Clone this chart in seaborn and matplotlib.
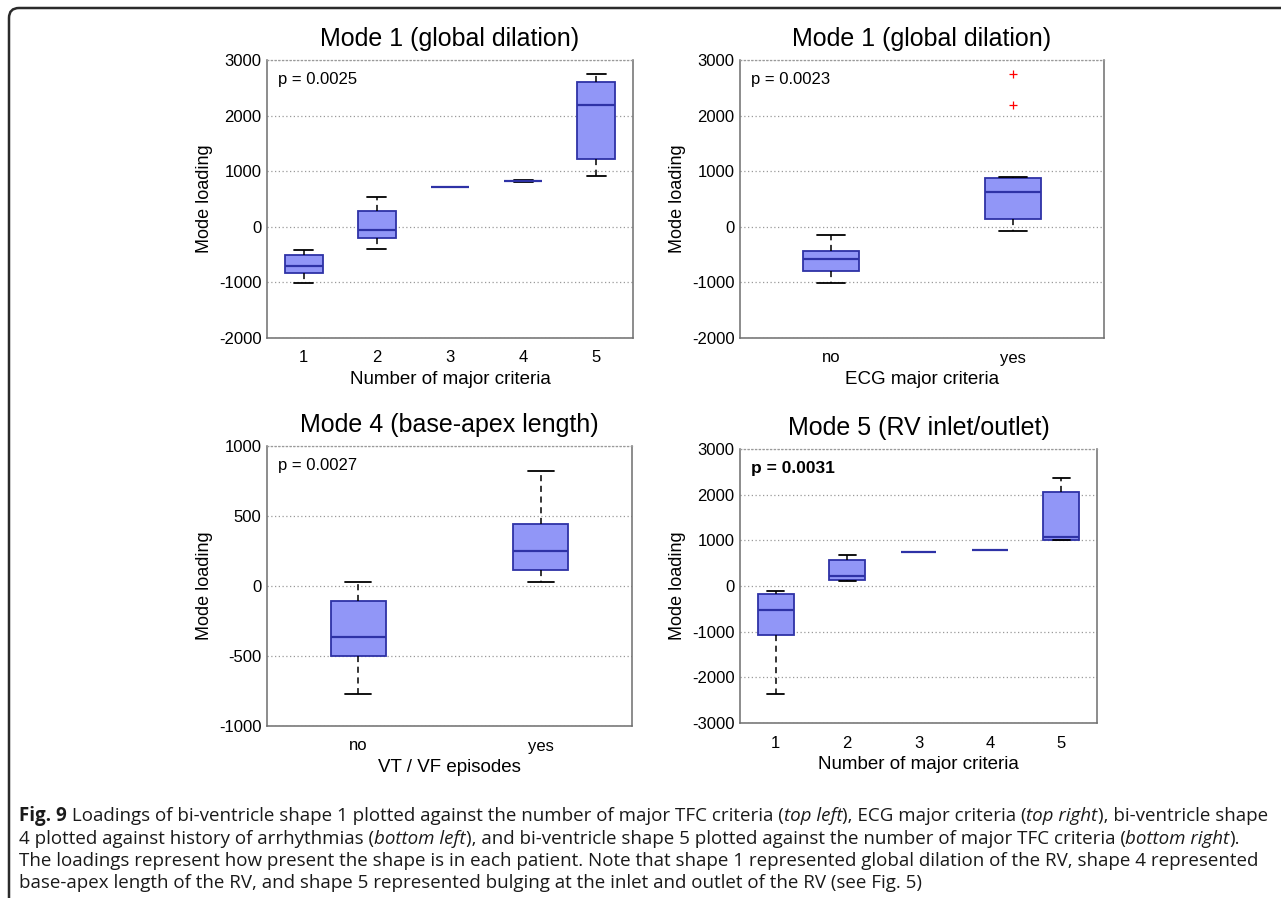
import numpy as np
import pandas as pd
import matplotlib
matplotlib.use("Agg")
import matplotlib.pyplot as plt
import seaborn as sns
from matplotlib.path import Path
from matplotlib.patches import PathPatch
from matplotlib.font_manager import FontProperties, findfont

# ---------------- data ----------------
# Panel A: Mode 1 vs number of major criteria
crit_labels = ["1", "2", "3", "4", "5"]
a_c1 = [-1010, -824, -704, -511, -421]
a_c2 = [-397, -193, -61, 287, 539]
a_c3 = [719]
a_c4 = [805, 815, 822, 828, 835]
a_c5 = [917, 1217, 2190, 2610, 2748]

# Panel B: Mode 1 vs ECG major criteria
yn_labels = ["no", "yes"]
b_no = [-1010, -794, -583, -433, -139]
b_yes = [-79, 40, 100, 137, 300, 480, 617, 700, 820, 869, 900, 2184, 2748]

# Panel C: Mode 4 vs VT / VF episodes
c_no = [-769, -499, -364, -108, 32]
c_yes = [32, 111, 251, 440, 821]

# Panel D: Mode 5 vs number of major criteria
d_c1 = [-2365, -1066, -533, -175, -117]
d_c2 = [109, 124, 212, 562, 686]
d_c3 = [745]
d_c4 = [782, 786, 788, 790, 794]
d_c5 = [1000, 1015, 1073, 2051, 2365]

titles = ["Mode 1 (global dilation)", "Mode 1 (global dilation)",
          "Mode 4 (base-apex length)", "Mode 5 (RV inlet/outlet)"]
xlabels = ["Number of major criteria", "ECG major criteria",
           "VT / VF episodes", "Number of major criteria"]
p_texts = ["p = 0.0025", "p = 0.0023", "p = 0.0027", "p = 0.0031"]
ylabel = "Mode loading"


def long_frame(labels, groups):
    rows = []
    for lab, vals in zip(labels, groups):
        for v in vals:
            rows.append((lab, v))
    return pd.DataFrame(rows, columns=["group", "value"])


df_a = long_frame(crit_labels, [a_c1, a_c2, a_c3, a_c4, a_c5])
df_b = long_frame(yn_labels, [b_no, b_yes])
df_c = long_frame(yn_labels, [c_no, c_yes])
df_d = long_frame(crit_labels, [d_c1, d_c2, d_c3, d_c4, d_c5])

# ---------------- styling ----------------
sns.set_theme(style="white")
plt.rcParams["font.family"] = ["Liberation Sans", "DejaVu Sans"]

W, H = 1281, 898
fig = plt.figure(figsize=(W / 100, H / 100), dpi=100)

FACE = "#9196F7"
EDGE = "#2E32A6"
GRIDC = "#9a9a9a"
SPINEC = "#6e6e6e"


def px_axes(left, top, right, bottom):
    return fig.add_axes([left / W, 1 - bottom / H, (right - left) / W, (bottom - top) / H])


panels = [
    dict(df=df_a, order=crit_labels, box=(267, 60, 633, 338), ylim=(-2000, 3000),
         yticks=[-2000, -1000, 0, 1000, 2000, 3000], width=0.52, cap=0.26, pbold=False),
    dict(df=df_b, order=yn_labels, box=(740, 60, 1104, 338), ylim=(-2000, 3000),
         yticks=[-2000, -1000, 0, 1000, 2000, 3000], width=0.31, cap=0.15, pbold=False),
    dict(df=df_c, order=yn_labels, box=(267, 446, 632, 726), ylim=(-1000, 1000),
         yticks=[-1000, -500, 0, 500, 1000], width=0.30, cap=0.14, pbold=False),
    dict(df=df_d, order=crit_labels, box=(740, 449, 1097, 723), ylim=(-3000, 3000),
         yticks=[-3000, -2000, -1000, 0, 1000, 2000, 3000], width=0.50, cap=0.24, pbold=True),
]

for i, p in enumerate(panels):
    ax = px_axes(*p["box"])
    sns.boxplot(data=p["df"], x="group", y="value", order=p["order"], ax=ax,
                color=FACE, saturation=1, linecolor=EDGE, linewidth=1.3,
                width=p["width"], whis=1.5,
                whiskerprops=dict(color="black", linestyle=(0, (4, 3)), linewidth=1.1),
                capprops=dict(color="black", linewidth=1.3),
                medianprops=dict(color=EDGE, linewidth=1.6),
                flierprops=dict(marker="+", markeredgecolor="red", markersize=6,
                                markeredgewidth=0.9),
                capwidths=p["cap"])
    ax.set_xlim(-0.5, len(p["order"]) - 0.5)
    ax.set_ylim(*p["ylim"])
    ax.set_yticks(p["yticks"])
    ax.set_yticklabels([str(t) for t in p["yticks"]])
    ax.yaxis.grid(True, linestyle=(0, (1, 2)), color=GRIDC, linewidth=0.9)
    ax.set_axisbelow(True)
    for side in ["left", "right", "bottom"]:
        ax.spines[side].set_color(SPINEC)
        ax.spines[side].set_linewidth(1.1)
    ax.spines["top"].set_color(GRIDC)
    ax.spines["top"].set_linestyle((0, (1, 2)))
    ax.spines["top"].set_linewidth(0.9)
    ax.tick_params(axis="both", length=0, labelsize=12, colors="black")
    ax.tick_params(axis="x", pad=9)
    ax.tick_params(axis="y", pad=4)
    ax.set_title(titles[i], fontsize=18, pad=10, color="black")
    ax.set_xlabel(xlabels[i], fontsize=13.5, labelpad=4, color="black")
    ax.set_ylabel(ylabel, fontsize=13, labelpad=4, color="black")
    ax.text(0.03, 0.958, p_texts[i], transform=ax.transAxes, fontsize=12.5 if p["pbold"] else 12,
            weight="bold" if p["pbold"] else "normal",
            ha="left", va="top", color="black")

# ---------------- frame ----------------
def fx(x):
    return x / W


def fy(y):
    return 1 - y / H


verts = [(fx(1281), fy(8)), (fx(19), fy(8)), (fx(9), fy(8)), (fx(9), fy(18)), (fx(9), fy(898))]
codes = [Path.MOVETO, Path.LINETO, Path.CURVE3, Path.CURVE3, Path.LINETO]
frame = PathPatch(Path(verts, codes), transform=fig.transFigure, fill=False,
                  edgecolor="#2b2b2b", linewidth=1.8)
fig.add_artist(frame)

# ---------------- caption ----------------
cap_family = ["Open Sans", "Noto Sans", "DejaVu Sans"]


def pick_italic():
    for fam in cap_family:
        try:
            f = findfont(FontProperties(family=fam, style="italic"), fallback_to_default=False)
            if "italic" in f.lower() or "oblique" in f.lower():
                return fam
        except Exception:
            pass
    return "DejaVu Sans"


ital_family = pick_italic()
cap_size = 13.5
renderer = fig.canvas.get_renderer()


def seg_width(text, fam, weight, style):
    t1 = fig.text(0, 0, text + "x", fontsize=cap_size, family=fam, weight=weight, style=style)
    t2 = fig.text(0, 0, "x", fontsize=cap_size, family=fam, weight=weight, style=style)
    w = t1.get_window_extent(renderer).width - t2.get_window_extent(renderer).width
    t1.remove()
    t2.remove()
    return w


caption_lines = [
    [("Fig. 9", "b"), (" Loadings of bi-ventricle shape 1 plotted against the number of major TFC criteria (", ""),
     ("top left", "i"), ("), ECG major criteria (", ""), ("top right", "i"), ("), bi-ventricle shape", "")],
    [("4 plotted against history of arrhythmias (", ""), ("bottom left", "i"),
     ("), and bi-ventricle shape 5 plotted against the number of major TFC criteria (", ""),
     ("bottom right", "i"), (").", "")],
    [("The loadings represent how present the shape is in each patient. Note that shape 1 represented global dilation of the RV, shape 4 represented", "")],
    [("base-apex length of the RV, and shape 5 represented bulging at the inlet and outlet of the RV (see Fig. 5)", "")],
]
line_y = [816, 839, 861, 883]

for segs, y in zip(caption_lines, line_y):
    x = 19
    for text, st in segs:
        fam = ital_family if "i" in st else cap_family[0]
        weight = "bold" if "b" in st else "normal"
        style = "italic" if "i" in st else "normal"
        fig.text(x / W, fy(y), text, fontsize=cap_size, family=fam, weight=weight,
                 style=style, ha="left", va="center", color="#1a1a1a")
        x += seg_width(text, fam, weight, style)

fig.savefig("out.png", dpi=100)
